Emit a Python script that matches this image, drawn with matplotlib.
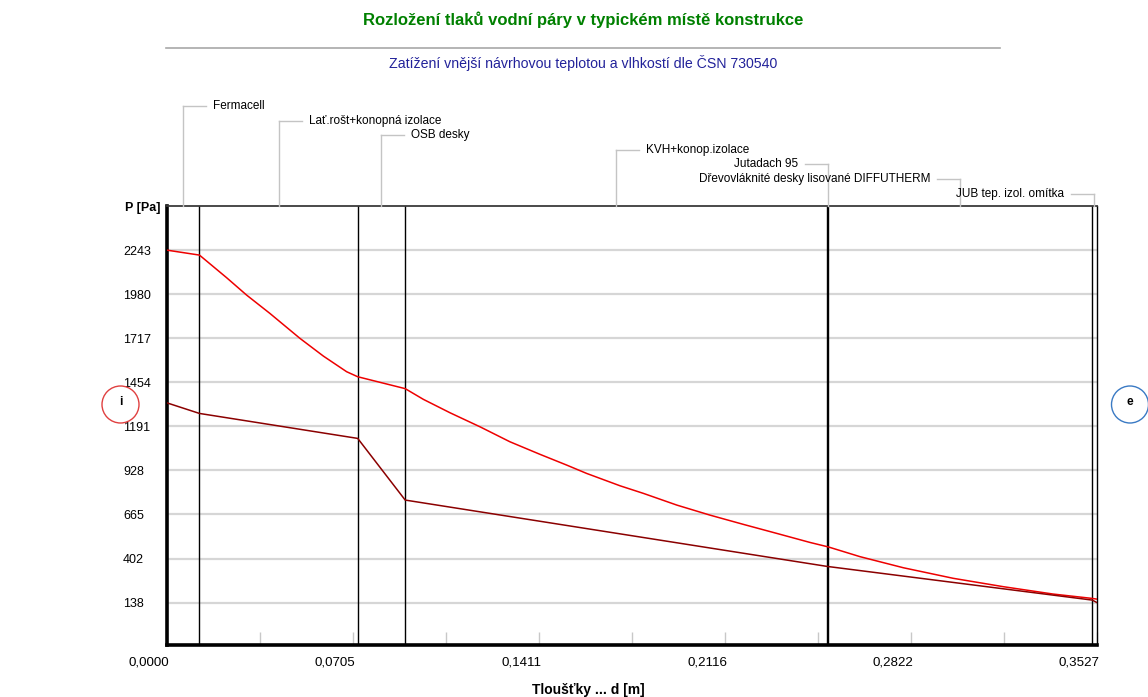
import matplotlib
matplotlib.use("Agg")
import matplotlib.pyplot as plt
from matplotlib.lines import Line2D
from matplotlib.patches import Ellipse
import matplotlib.transforms as mtransforms

# ---------------- data ----------------
layer_names = ["Fermacell", "Lať.rošt+konopná izolace", "OSB desky", "KVH+konop.izolace",
               "Jutadach 95", "Dřevovláknité desky lisované DIFFUTHERM", "JUB tep. izol. omítka"]
boundaries_m = [0.0, 0.0125, 0.0725, 0.0905, 0.2505, 0.2510, 0.3510, 0.3527]

# saturated vapour pressure (upper curve)
sat_d = [0.0, 0.0125, 0.0228, 0.0304, 0.0392, 0.0506, 0.0595, 0.0683, 0.0725, 0.0905,
         0.0974, 0.1075, 0.1189, 0.1302, 0.1416, 0.1517, 0.1593, 0.1720, 0.1808, 0.1935,
         0.2061, 0.2187, 0.2314, 0.2440, 0.2505, 0.2510, 0.2630, 0.2794, 0.2983, 0.3173,
         0.3362, 0.3510, 0.3527]
sat_p = [2243, 2213, 2078, 1974, 1865, 1716, 1610, 1517, 1487, 1416,
         1352, 1272, 1188, 1099, 1024, 960, 910, 836, 791, 721,
         661, 606, 552, 498, 473, 471, 413, 347, 284, 234,
         190, 164, 160]

# partial vapour pressure (lower curve)
part_d = [0.0, 0.0125, 0.0725, 0.0905, 0.2505, 0.2510, 0.3510, 0.3527]
part_p = [1332, 1268, 1119, 751, 355, 354, 154, 140]

y_ticks = [138, 402, 665, 928, 1191, 1454, 1717, 1980, 2243]
y_limits = [-114, 2506]
x_max = 0.3527

title = "Rozložení tlaků vodní páry v typickém místě konstrukce"
subtitle = "Zatížení vnější návrhovou teplotou a vlhkostí dle ČSN 730540"
y_label = "P [Pa]"
x_label = "Tloušťky ... d [m]"

# ---------------- layout ----------------
W, H = 1148, 697
plt.rcParams['font.family'] = ['Liberation Sans', 'DejaVu Sans']
fig = plt.figure(figsize=(W / 100, H / 100), dpi=100)
fig.patch.set_facecolor('white')

L, R, T, B = 166.5, 1096.7, 206, 645
ax = fig.add_axes([L / W, 1 - B / H, (R - L) / W, (B - T) / H])

def fx(x):
    return x / W

def fy(y):
    return 1 - y / H

ax.set_xlim(0, x_max)
ax.set_ylim(*y_limits)

# gridlines / y ticks
ax.set_yticks(y_ticks)
ax.set_yticklabels([str(v) for v in y_ticks], ha='left')
ax.tick_params(axis='y', length=0, pad=(L - 123) * 0.72, labelsize=9)
ax.yaxis.grid(True, color='#d6d6d6', lw=1.6, zorder=0)
ax.set_axisbelow(True)

# x ticks
major = [x_max * k / 5 for k in range(6)]
minor = [x_max * k / 10 for k in range(1, 10) if k % 2 == 1]
ax.set_xticks(major)
ax.set_xticklabels([f"{v:.4f}".replace('.', ',') for v in major], ha='right')
ax.set_xticks(minor, minor=True)
ax.tick_params(axis='x', which='both', direction='in', length=9.5, color='#c8c8c8',
               width=1, pad=8, labelsize=9.6)
shift = mtransforms.ScaledTranslation(3 / 100, 0, fig.dpi_scale_trans)
for lbl in ax.get_xticklabels():
    lbl.set_transform(lbl.get_transform() + shift)

# spines
ax.spines['left'].set_linewidth(2.6)
ax.spines['bottom'].set_linewidth(2.6)
ax.spines['top'].set_linewidth(1.3)
ax.spines['top'].set_color('#3a3a3a')
ax.spines['right'].set_linewidth(1.0)

# layer boundaries
for b in boundaries_m[1:-1]:
    ax.axvline(b, color='black', lw=1.0, zorder=2)

# curves
ax.plot(sat_d, sat_p, color='#ee0000', lw=1.1, zorder=3)
ax.plot(part_d, part_p, color='#8b0000', lw=1.1, zorder=3)

# titles
fig.text(fx(583), fy(20), title, color='#008000', fontsize=12, fontweight='bold',
         ha='center', va='center')
fig.add_artist(Line2D([fx(166), fx(1000)], [fy(48), fy(48)], color='#a8a8a8', lw=1.2))
fig.text(fx(583), fy(63), subtitle, color='#22229a', fontsize=10.2, ha='center', va='center')

fig.text(fx(125), fy(208), y_label, fontsize=9, fontweight='bold', ha='left', va='center')
fig.text(fx(588), fy(690), x_label, fontsize=10, fontweight='bold', ha='center', va='center')

# layer name leaders
label_side = ['r', 'r', 'r', 'r', 'l', 'l', 'l']
leader_col = '#c4c4c4'
for i, name in enumerate(layer_names):
    mid = (boundaries_m[i] + boundaries_m[i + 1]) / 2
    xp = L + mid / x_max * (R - L)
    yp = 106 + 14.6 * i
    fig.add_artist(Line2D([fx(xp), fx(xp)], [fy(T), fy(yp)], color=leader_col, lw=1))
    if label_side[i] == 'r':
        fig.add_artist(Line2D([fx(xp), fx(xp + 23)], [fy(yp), fy(yp)], color=leader_col, lw=1))
        fig.text(fx(xp + 30), fy(yp), name, fontsize=8.5, ha='left', va='center')
    else:
        fig.add_artist(Line2D([fx(xp - 23), fx(xp)], [fy(yp), fy(yp)], color=leader_col, lw=1))
        fig.text(fx(xp - 30), fy(yp), name, fontsize=8.5, ha='right', va='center')

# interior / exterior markers
for cx, col, letter in [(120.5, '#e04040', 'i'), (1130, '#3a7ac4', 'e')]:
    fig.add_artist(Ellipse((fx(cx), fy(404.5)), 37 / W, 37 / H, fill=False,
                           edgecolor=col, lw=1.0))
    fig.text(fx(cx), fy(402), letter, fontsize=8.5, fontweight='bold',
             ha='center', va='center')

fig.savefig("out.png", dpi=100, facecolor='white')
